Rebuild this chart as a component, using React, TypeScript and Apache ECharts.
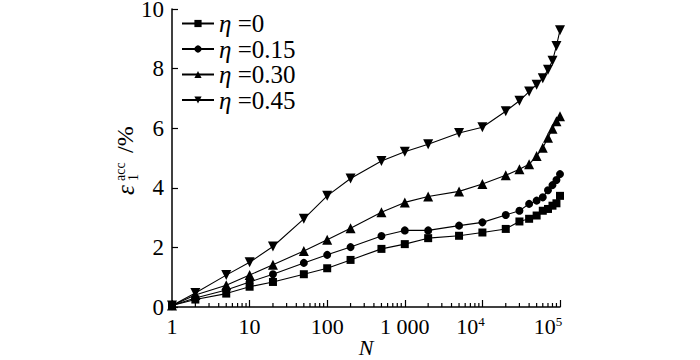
import React, { useEffect, useRef } from "react";
import * as echarts from "echarts";

const N_VALUES = [1, 2, 5, 10, 20, 50, 100, 200, 500, 1000, 2000, 5000, 10000, 20000, 30000, 40000, 50000, 60000, 70000, 80000, 90000, 100000];
const ETA_0 = [0.05, 0.25, 0.45, 0.68, 0.84, 1.1, 1.3, 1.58, 1.95, 2.11, 2.31, 2.39, 2.5, 2.62, 2.87, 2.96, 3.07, 3.23, 3.29, 3.4, 3.48, 3.73];
const ETA_015 = [0.05, 0.3, 0.57, 0.84, 1.1, 1.48, 1.75, 2.01, 2.38, 2.57, 2.57, 2.73, 2.84, 3.09, 3.23, 3.46, 3.57, 3.68, 3.92, 4.09, 4.26, 4.46];
const ETA_030 = [0.05, 0.4, 0.73, 1.07, 1.42, 1.88, 2.26, 2.64, 3.18, 3.51, 3.71, 3.88, 4.13, 4.42, 4.62, 4.79, 5.07, 5.34, 5.68, 5.98, 6.23, 6.4];
const ETA_045 = [0.05, 0.47, 1.07, 1.5, 2.03, 2.96, 3.73, 4.31, 4.9, 5.21, 5.46, 5.84, 6.03, 6.57, 6.92, 7.23, 7.46, 7.68, 7.96, 8.26, 8.76, 9.29];
const SERIES_NAMES = ["η =0", "η =0.15", "η =0.30", "η =0.45"];
const MINOR_MULTIPLIERS = [2, 3, 4, 5, 6, 7, 8, 9];
const DECADES = [1, 10, 100, 1000, 10000];
const MINOR_TICKS = DECADES.flatMap((d) => MINOR_MULTIPLIERS.map((m) => m * d));
const X_LABELS: Record<number, string> = { 0: "1", 1: "10", 2: "100", 3: "1 000", 4: "10{s|4}{p| }", 5: "10{s|5}{p| }" };

const FONT = "Times New Roman";

export default function App() {
  const ref = useRef<HTMLDivElement>(null);
  useEffect(() => {
    if (!ref.current) return;
    const chart = echarts.init(ref.current, null, { renderer: "svg" });
    const mk = (vals: number[]) => N_VALUES.map((n, i) => [n, vals[i]]);
    const lineSeries = (name: string, vals: number[], symbol: string, size: number, rotate = 0) => ({
      name,
      type: "line",
      data: mk(vals),
      symbol,
      symbolSize: size,
      symbolRotate: rotate,
      lineStyle: { color: "#000", width: 1.1 },
      itemStyle: { color: "#000" },
      z: 3,
    });
    chart.setOption({
      animation: false,
      backgroundColor: "#fff",
      textStyle: { fontFamily: FONT },
      grid: { left: 172, right: 140, top: 9, bottom: 53, outerBoundsMode: "none", containLabel: false },
      legend: {
        data: SERIES_NAMES,
        orient: "vertical",
        left: 181,
        top: 11,
        padding: 0,
        itemWidth: 32,
        itemHeight: 9,
        itemGap: 0.5,
        textStyle: {
          fontFamily: FONT,
          fontSize: 25,
          lineHeight: 24,
          color: "#000",
          rich: {
            i: { fontFamily: FONT, fontSize: 25, fontStyle: "italic", color: "#000", lineHeight: 24 },
          },
        },
        formatter: (name: string) => name.replace("η", "{i|η}"),
      },
      xAxis: {
        type: "log",
        logBase: 10,
        min: 1,
        max: 100000,
        name: "N",
        nameLocation: "middle",
        nameGap: 29,
        nameMoveOverlap: false,
        nameTextStyle: { fontFamily: FONT, fontSize: 22, lineHeight: 22, fontStyle: "italic", color: "#000" },
        axisLine: { lineStyle: { color: "#000", width: 1.5 } },
        axisTick: { inside: true, length: 7, lineStyle: { color: "#000", width: 1.2 } },
        splitLine: { show: false },
        axisLabel: {
          color: "#000",
          fontFamily: FONT,
          fontSize: 22,
          margin: 8,
          hideOverlap: false,
          formatter: (v: number) => X_LABELS[Math.round(Math.log10(v))] ?? "",
          rich: {
            s: { fontFamily: FONT, fontSize: 13, verticalAlign: "top", padding: [0, 0, 10, 0], color: "#000" },
            p: { width: 24, fontSize: 13 },
          },
        },
      },
      yAxis: {
        type: "value",
        min: 0,
        max: 10,
        interval: 2,
        axisLine: { show: true, lineStyle: { color: "#000", width: 1.5 } },
        axisTick: { show: true, inside: true, length: 6, lineStyle: { color: "#000", width: 1.2 } },
        splitLine: { show: false },
        axisLabel: { color: "#000", fontFamily: FONT, fontSize: 23, lineHeight: 14, margin: 8 },
      },
      graphic: [
        {
          type: "group",
          x: 125,
          y: 195,
          rotation: Math.PI / 2,
          children: [
            { type: "text", x: 0, y: 0, style: { text: "ε", fontFamily: FONT, fontSize: 25, fontStyle: "italic", fill: "#000", align: "left", verticalAlign: "middle" } },
            { type: "text", x: 14, y: -5, style: { text: "acc", fontFamily: FONT, fontSize: 14, fill: "#000", align: "left", verticalAlign: "middle" } },
            { type: "text", x: 14, y: 8, style: { text: "1", fontFamily: FONT, fontSize: 14, fill: "#000", align: "left", verticalAlign: "middle" } },
            { type: "text", x: 42, y: 0, style: { text: "/%", fontFamily: FONT, fontSize: 24, fill: "#000", align: "left", verticalAlign: "middle" } },
          ],
        },
      ],
      series: [
        lineSeries(SERIES_NAMES[0], ETA_0, "rect", 8),
        lineSeries(SERIES_NAMES[1], ETA_015, "circle", 8),
        lineSeries(SERIES_NAMES[2], ETA_030, "triangle", 10),
        lineSeries(SERIES_NAMES[3], ETA_045, "triangle", 10, 180),
        {
          type: "custom",
          name: "minor",
          silent: true,
          data: MINOR_TICKS.map((v) => [v, 0]),
          clip: false,
          renderItem: (_params: any, api: any) => {
            const p = api.coord([api.value(0), 0]);
            return {
              type: "line",
              shape: { x1: p[0], y1: p[1], x2: p[0], y2: p[1] - 4 },
              style: { stroke: "#000", lineWidth: 1.2 },
            };
          },
          z: 2,
        },
      ],
    });
    return () => chart.dispose();
  }, []);
  return <div ref={ref} style={{ position: "absolute", left: 0, top: 0, width: 700, height: 360 }} />;
}
